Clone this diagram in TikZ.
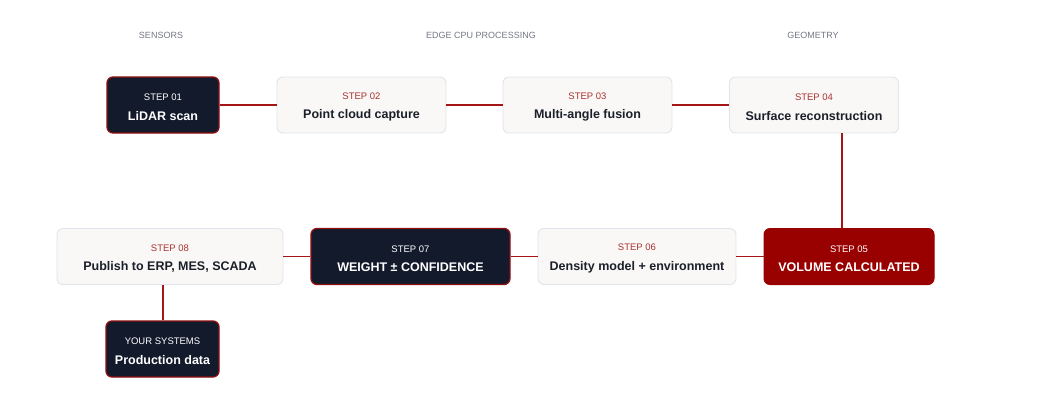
\documentclass[tikz,border=0pt]{standalone}
\usepackage{fontspec}
\setmainfont{Liberation Sans}
\definecolor{navy}{HTML}{121A2C}
\definecolor{dred}{HTML}{8E1010}
\definecolor{vred}{HTML}{990000}
\definecolor{lfill}{HTML}{F9F8F6}
\definecolor{lborder}{HTML}{E1E4EA}
\definecolor{steplbl}{HTML}{A83232}
\definecolor{hdr}{HTML}{727884}
\definecolor{linec}{HTML}{A51515}
\definecolor{darktxt}{HTML}{1B1F2A}
\begin{document}
\begin{tikzpicture}[x=1pt,y=-1pt,
  box/.style={rounded corners=6pt, minimum height=56pt, align=center, inner sep=0pt},
  lightbox/.style={box, fill=lfill, draw=lborder, line width=0.9pt, text=darktxt},
  darkbox/.style={box, fill=navy, draw=dred, line width=1.3pt, text=white},
  redbox/.style={box, fill=vred, draw=vred, line width=1pt, text=white},
  conn/.style={draw=linec, line width=1.6pt},
  hdrtxt/.style={text=hdr, font=\fontsize{9}{11}\selectfont},
]
\useasboundingbox (0,0) rectangle (1038,400);
\newcommand{\lbl}[2]{{\fontsize{9.5}{11}\selectfont\rule{0pt}{11pt}#1}\\[7.5pt]{\fontsize{12.5}{14}\selectfont\bfseries #2}}

\node[hdrtxt] (h1) at (161,35) {SENSORS};
\node[hdrtxt] (h2) at (481,35) {EDGE CPU PROCESSING};
\node[hdrtxt] (h3) at (813,35) {GEOMETRY};

\node[darkbox, minimum width=112pt] (s1) at (163,105) {\lbl{STEP 01}{LiDAR scan}};
\node[lightbox, minimum width=169pt] (s2) at (361.5,105) {\lbl{\textcolor{steplbl}{STEP 02}}{Point cloud capture}};
\node[lightbox, minimum width=169pt] (s3) at (587.5,105) {\lbl{\textcolor{steplbl}{STEP 03}}{Multi-angle fusion}};
\node[lightbox, minimum width=169pt] (s4) at (814,105) {\lbl{\textcolor{steplbl}{STEP 04}}{Surface reconstruction}};

\node[redbox, minimum width=170pt] (s5) at (849,256.5) {\lbl{STEP 05}{VOLUME CALCULATED}};
\node[lightbox, minimum width=198pt] (s6) at (637,256.5) {\lbl{\textcolor{steplbl}{STEP 06}}{Density model + environment}};
\node[darkbox, minimum width=199pt] (s7) at (410.5,256.5) {\lbl{STEP 07}{WEIGHT ± CONFIDENCE}};
\node[lightbox, minimum width=226pt] (s8) at (170,256.5) {\lbl{\textcolor{steplbl}{STEP 08}}{Publish to ERP, MES, SCADA}};

\node[darkbox, minimum width=113pt] (ys) at (162.5,349) {\lbl{YOUR SYSTEMS}{Production data}};

\draw[conn] (s1) -- (s2);
\draw[conn] (s2) -- (s3);
\draw[conn] (s3) -- (s4);
\draw[conn] (s4.south -| 842,0) -- (s5.north -| 842,0);
\draw[conn] (s5) -- (s6);
\draw[conn] (s6) -- (s7);
\draw[conn] (s7) -- (s8);
\draw[conn] (s8.south -| 163,0) -- (ys.north -| 163,0);
\end{tikzpicture}
\end{document}
